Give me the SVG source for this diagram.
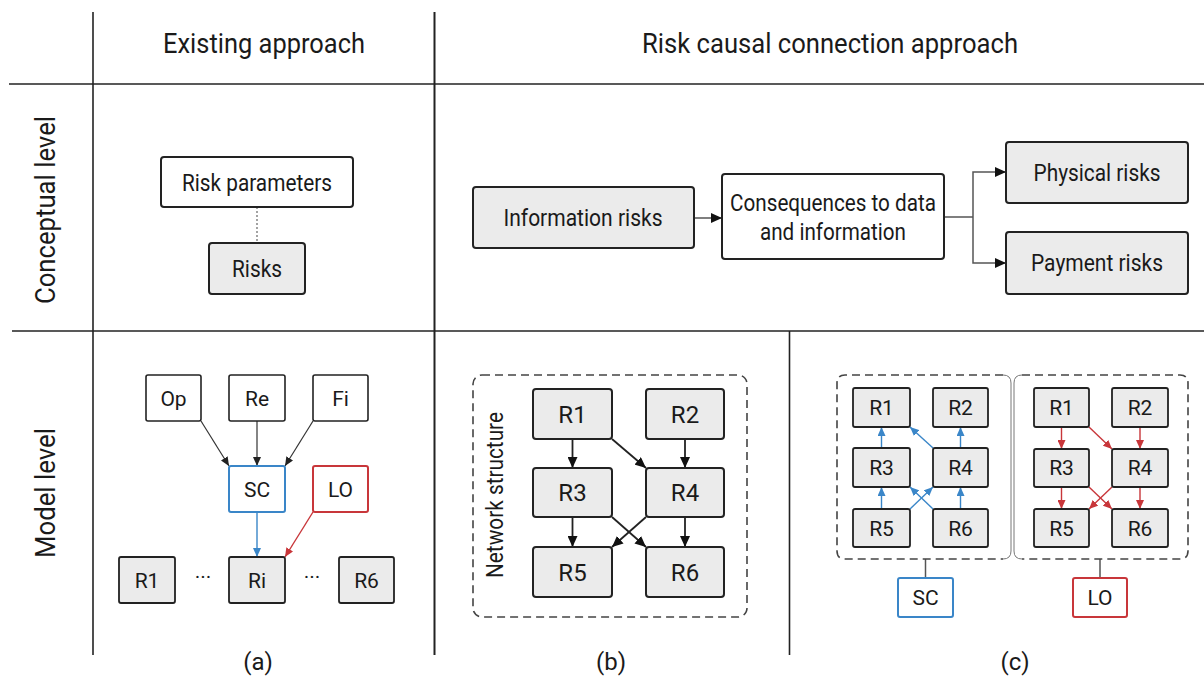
<svg xmlns="http://www.w3.org/2000/svg" width="1204" height="677" viewBox="0 0 1204 677">
<style>
  text { font-family: Roboto, "Liberation Sans", sans-serif; fill: #1a1a1a; text-anchor: middle; }
  .hdr { font-size: 28px; }
  .lbl { font-size: 24px; }
  .grid { stroke: #222; stroke-width: 1.6; fill: none; }
  .box { fill: #fff; stroke: #222; stroke-width: 2; }
  .gbox { fill: #ebebeb; stroke: #222; stroke-width: 2; }
  .sbox { fill: #fff; stroke: #222; stroke-width: 1.6; }
  .blue { fill: #fff; stroke: #3a86c8; stroke-width: 2; }
  .red { fill: #fff; stroke: #c8363a; stroke-width: 2; }
  .t21 { font-size: 21px; }
  .t24 { font-size: 24px; }
  .t23 { font-size: 23px; }
  .dash { fill: none; stroke: #444; stroke-width: 1.6; stroke-dasharray: 8 5; }
  .thin { fill: none; stroke: #777; stroke-width: 1; }
  .ck { stroke: #333; stroke-width: 1.2; fill: none; }
  .cb { stroke: #222; stroke-width: 1.8; fill: none; }
  .cblue { stroke: #3a86c8; stroke-width: 1.4; fill: none; }
  .cred { stroke: #c8363a; stroke-width: 1.4; fill: none; }
  .cg { stroke: #555; stroke-width: 1.5; fill: none; }
</style>
<defs>
  <marker id="ak" markerUnits="userSpaceOnUse" markerWidth="9" markerHeight="8" refX="9" refY="4" orient="auto">
    <path d="M0,0 L9,4 L0,8 z" fill="#222"/>
  </marker>
  <marker id="akb" markerUnits="userSpaceOnUse" markerWidth="11" markerHeight="10" refX="11" refY="5" orient="auto">
    <path d="M0,0 L11,5 L0,10 z" fill="#111"/>
  </marker>
  <marker id="ab" markerUnits="userSpaceOnUse" markerWidth="9" markerHeight="8" refX="9" refY="4" orient="auto">
    <path d="M0,0 L9,4 L0,8 z" fill="#3a86c8"/>
  </marker>
  <marker id="ar" markerUnits="userSpaceOnUse" markerWidth="9" markerHeight="8" refX="9" refY="4" orient="auto">
    <path d="M0,0 L9,4 L0,8 z" fill="#c8363a"/>
  </marker>
</defs>
<rect width="1204" height="677" fill="#fff"/>

<g id="grid">
  <line class="grid" x1="93" y1="12" x2="93" y2="655"/>
  <line class="grid" x1="434.5" y1="12" x2="434.5" y2="655" style="stroke-width:2"/>
  <line class="grid" x1="789.5" y1="331" x2="789.5" y2="655"/>
  <line class="grid" x1="9" y1="84" x2="1204" y2="84"/>
  <line class="grid" x1="12" y1="331" x2="1204" y2="331"/>
</g>

<g id="headers">
  <text class="hdr" x="264" y="53" textLength="202" lengthAdjust="spacingAndGlyphs">Existing approach</text>
  <text class="hdr" x="830" y="53" textLength="376" lengthAdjust="spacingAndGlyphs">Risk causal connection approach</text>
  <text class="hdr" transform="translate(55,210) rotate(-90)" textLength="188" lengthAdjust="spacingAndGlyphs">Conceptual level</text>
  <text class="hdr" transform="translate(55,493) rotate(-90)" textLength="130" lengthAdjust="spacingAndGlyphs">Model level</text>
  <text class="lbl" x="258" y="670">(a)</text>
  <text class="lbl" x="611" y="670">(b)</text>
  <text class="lbl" x="1015" y="670">(c)</text>
</g>

<g id="connectors">
  <!-- conceptual (a) -->
  <line x1="257" y1="207" x2="257" y2="243" stroke="#666" stroke-width="1.2" stroke-dasharray="2 2"/>
  <!-- conceptual right -->
  <line class="cg" x1="694" y1="218" x2="722" y2="218" marker-end="url(#akb)"/>
  <polyline class="cg" points="944,217 973,217"/>
  <path class="cg" d="M973,217 V172 H1006" marker-end="url(#akb)"/>
  <path class="cg" d="M973,217 V263 H1006" marker-end="url(#akb)"/>
  <!-- model (a) -->
  <line class="ck" x1="201" y1="421" x2="229" y2="466" marker-end="url(#ak)"/>
  <line class="ck" x1="257" y1="421" x2="257" y2="466" marker-end="url(#ak)"/>
  <line class="ck" x1="313" y1="421" x2="285" y2="466" marker-end="url(#ak)"/>
  <line class="cblue" x1="257" y1="512" x2="257" y2="557" marker-end="url(#ab)"/>
  <line class="cred" x1="313" y1="512" x2="285" y2="557" marker-end="url(#ar)"/>
  <!-- model (b) -->
  <line class="cb" x1="572.5" y1="439" x2="572.5" y2="468" marker-end="url(#akb)"/>
  <line class="cb" x1="685" y1="439" x2="685" y2="468" marker-end="url(#akb)"/>
  <line class="cb" x1="612" y1="439" x2="646" y2="468" marker-end="url(#akb)"/>
  <line class="cb" x1="572.5" y1="517" x2="572.5" y2="547" marker-end="url(#akb)"/>
  <line class="cb" x1="685" y1="517" x2="685" y2="547" marker-end="url(#akb)"/>
  <line class="cb" x1="612" y1="517" x2="646" y2="547" marker-end="url(#akb)"/>
  <line class="cb" x1="646" y1="517" x2="612" y2="547" marker-end="url(#akb)"/>
  <!-- model (c) SC -->
  <line class="cblue" x1="881.5" y1="448" x2="881.5" y2="427" marker-end="url(#ab)"/>
  <line class="cblue" x1="960.5" y1="448" x2="960.5" y2="427" marker-end="url(#ab)"/>
  <line class="cblue" x1="933" y1="448" x2="910" y2="427" marker-end="url(#ab)"/>
  <line class="cblue" x1="881.5" y1="509" x2="881.5" y2="487" marker-end="url(#ab)"/>
  <line class="cblue" x1="960.5" y1="509" x2="960.5" y2="487" marker-end="url(#ab)"/>
  <line class="cblue" x1="933" y1="509" x2="910" y2="487" marker-end="url(#ab)"/>
  <line class="cblue" x1="910" y1="509" x2="933" y2="487" marker-end="url(#ab)"/>
  <line class="cg" x1="925.5" y1="559" x2="925.5" y2="578"/>
  <!-- model (c) LO -->
  <line class="cred" x1="1061.5" y1="427" x2="1061.5" y2="449" marker-end="url(#ar)"/>
  <line class="cred" x1="1140" y1="427" x2="1140" y2="449" marker-end="url(#ar)"/>
  <line class="cred" x1="1089" y1="427" x2="1112" y2="449" marker-end="url(#ar)"/>
  <line class="cred" x1="1061.5" y1="487" x2="1061.5" y2="509" marker-end="url(#ar)"/>
  <line class="cred" x1="1140" y1="487" x2="1140" y2="509" marker-end="url(#ar)"/>
  <line class="cred" x1="1089" y1="487" x2="1112" y2="509" marker-end="url(#ar)"/>
  <line class="cred" x1="1112" y1="487" x2="1089" y2="509" marker-end="url(#ar)"/>
  <line class="cg" x1="1100" y1="559" x2="1100" y2="578"/>
</g>

<!-- Conceptual level, existing approach -->
<g id="risk-parameters">
  <rect class="box" x="161" y="157" width="192" height="50" rx="3"/>
  <text class="t23" x="257" y="191" textLength="150" lengthAdjust="spacingAndGlyphs">Risk parameters</text>
</g>
<g id="risks">
  <rect class="gbox" x="209" y="243" width="96" height="51" rx="3"/>
  <text class="t23" x="257" y="277" textLength="50" lengthAdjust="spacingAndGlyphs">Risks</text>
</g>

<!-- Conceptual level, causal approach -->
<g id="information-risks">
  <rect class="gbox" x="473" y="187" width="221" height="61" rx="3"/>
  <text class="t23" x="583" y="226" textLength="159" lengthAdjust="spacingAndGlyphs">Information risks</text>
</g>
<g id="consequences">
  <rect class="box" x="722" y="174" width="222" height="85" rx="3"/>
  <text class="t23" x="833" y="211" textLength="206" lengthAdjust="spacingAndGlyphs">Consequences to data</text>
  <text class="t23" x="833" y="240" textLength="146" lengthAdjust="spacingAndGlyphs">and information</text>
</g>
<g id="physical-risks">
  <rect class="gbox" x="1006" y="142" width="182" height="61" rx="3"/>
  <text class="t23" x="1097" y="181" textLength="127" lengthAdjust="spacingAndGlyphs">Physical risks</text>
</g>
<g id="payment-risks">
  <rect class="gbox" x="1006" y="232" width="182" height="62" rx="3"/>
  <text class="t23" x="1097" y="271" textLength="132" lengthAdjust="spacingAndGlyphs">Payment risks</text>
</g>

<!-- Model level (a) -->
<g id="a-op"><rect class="sbox" x="146" y="375" width="55" height="46" rx="2"/><text class="t21" x="173.5" y="406">Op</text></g>
<g id="a-re"><rect class="sbox" x="229" y="375" width="56" height="46" rx="2"/><text class="t21" x="257" y="406">Re</text></g>
<g id="a-fi"><rect class="sbox" x="313" y="375" width="55" height="46" rx="2"/><text class="t21" x="340.5" y="406">Fi</text></g>
<g id="a-sc"><rect class="blue" x="229" y="466" width="56" height="46" rx="2"/><text class="t21" x="257" y="497">SC</text></g>
<g id="a-lo"><rect class="red" x="313" y="466" width="55" height="46" rx="2"/><text class="t21" x="340.5" y="497">LO</text></g>
<g id="a-r1"><rect class="gbox" x="119" y="557" width="56" height="46" rx="2" style="stroke-width:1.8"/><text class="t21" x="147" y="588">R1</text></g>
<g id="a-ri"><rect class="gbox" x="229" y="557" width="56" height="46" rx="2" style="stroke-width:1.8"/><text class="t21" x="257" y="588">Ri</text></g>
<g id="a-r6"><rect class="gbox" x="339" y="557" width="55" height="46" rx="2" style="stroke-width:1.8"/><text class="t21" x="366.5" y="588">R6</text></g>
<g id="a-dots">
  <text class="t21" x="203" y="584">···</text>
  <text class="t21" x="312" y="584">···</text>
</g>

<!-- Model level (b) -->
<g id="b-network">
  <rect class="dash" x="473" y="375" width="274" height="242" rx="9"/>
  <text class="t23" transform="translate(503,495) rotate(-90)" textLength="166" lengthAdjust="spacingAndGlyphs">Network structure</text>
</g>
<g id="b-r1"><rect class="gbox" x="533" y="389" width="79" height="50" rx="3"/><text class="t24" x="572.5" y="423">R1</text></g>
<g id="b-r2"><rect class="gbox" x="646" y="389" width="78" height="50" rx="3"/><text class="t24" x="685" y="423">R2</text></g>
<g id="b-r3"><rect class="gbox" x="533" y="468" width="79" height="49" rx="3"/><text class="t24" x="572.5" y="501">R3</text></g>
<g id="b-r4"><rect class="gbox" x="646" y="468" width="78" height="49" rx="3"/><text class="t24" x="685" y="501">R4</text></g>
<g id="b-r5"><rect class="gbox" x="533" y="547" width="79" height="50" rx="3"/><text class="t24" x="572.5" y="581">R5</text></g>
<g id="b-r6"><rect class="gbox" x="646" y="547" width="78" height="50" rx="3"/><text class="t24" x="685" y="581">R6</text></g>

<!-- Model level (c) -->
<g id="c-sc-group">
  <path class="dash" d="M1003,375 H845 Q837,375 837,383 V551 Q837,559 845,559 H1003"/>
  <path class="thin" d="M1003,375 Q1011,375 1011,383 V551 Q1011,559 1003,559"/>
</g>
<g id="c-lo-group">
  <path class="dash" d="M1022,375 H1180 Q1188,375 1188,383 V551 Q1188,559 1180,559 H1022"/>
  <path class="thin" d="M1022,375 Q1014,375 1014,383 V551 Q1014,559 1022,559"/>
</g>
<g id="c1-r1"><rect class="gbox" x="853" y="388" width="57" height="39" rx="2" style="stroke-width:1.8"/><text class="t21" x="881.5" y="415">R1</text></g>
<g id="c1-r2"><rect class="gbox" x="933" y="388" width="55" height="39" rx="2" style="stroke-width:1.8"/><text class="t21" x="960.5" y="415">R2</text></g>
<g id="c1-r3"><rect class="gbox" x="853" y="448" width="57" height="39" rx="2" style="stroke-width:1.8"/><text class="t21" x="881.5" y="475">R3</text></g>
<g id="c1-r4"><rect class="gbox" x="933" y="448" width="55" height="39" rx="2" style="stroke-width:1.8"/><text class="t21" x="960.5" y="475">R4</text></g>
<g id="c1-r5"><rect class="gbox" x="853" y="509" width="57" height="38" rx="2" style="stroke-width:1.8"/><text class="t21" x="881.5" y="536">R5</text></g>
<g id="c1-r6"><rect class="gbox" x="933" y="509" width="55" height="38" rx="2" style="stroke-width:1.8"/><text class="t21" x="960.5" y="536">R6</text></g>
<g id="c-sc"><rect class="blue" x="898" y="578" width="55" height="39" rx="2"/><text class="t21" x="925.5" y="605">SC</text></g>

<g id="c2-r1"><rect class="gbox" x="1034" y="388" width="55" height="39" rx="2" style="stroke-width:1.8"/><text class="t21" x="1061.5" y="415">R1</text></g>
<g id="c2-r2"><rect class="gbox" x="1112" y="388" width="56" height="39" rx="2" style="stroke-width:1.8"/><text class="t21" x="1140" y="415">R2</text></g>
<g id="c2-r3"><rect class="gbox" x="1034" y="449" width="55" height="38" rx="2" style="stroke-width:1.8"/><text class="t21" x="1061.5" y="475">R3</text></g>
<g id="c2-r4"><rect class="gbox" x="1112" y="449" width="56" height="38" rx="2" style="stroke-width:1.8"/><text class="t21" x="1140" y="475">R4</text></g>
<g id="c2-r5"><rect class="gbox" x="1034" y="509" width="55" height="38" rx="2" style="stroke-width:1.8"/><text class="t21" x="1061.5" y="536">R5</text></g>
<g id="c2-r6"><rect class="gbox" x="1112" y="509" width="56" height="38" rx="2" style="stroke-width:1.8"/><text class="t21" x="1140" y="536">R6</text></g>
<g id="c-lo"><rect class="red" x="1073" y="578" width="54" height="39" rx="2"/><text class="t21" x="1100" y="605">LO</text></g>
</svg>
